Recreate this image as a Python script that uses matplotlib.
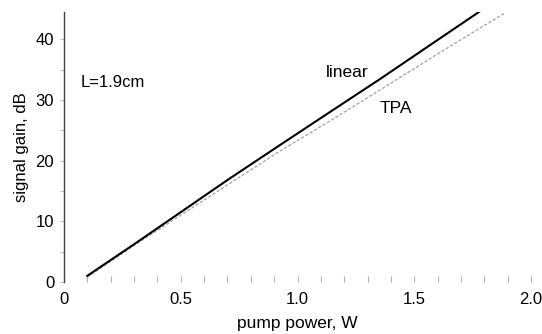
import matplotlib
matplotlib.use("Agg")
import matplotlib.pyplot as plt
from matplotlib.ticker import MultipleLocator, FixedLocator

plt.rcParams["font.family"] = ["Liberation Sans", "DejaVu Sans"]

# pump power (W) vs signal gain (dB)
linear_power = [0.10, 0.30, 0.50, 0.70, 0.93, 1.15, 1.355, 1.55, 1.78]
linear_gain = [1.0, 6.2, 11.5, 16.8, 22.7, 28.3, 33.5, 38.6, 44.6]
tpa_power = [0.10, 0.30, 0.50, 0.70, 0.93, 1.15, 1.355, 1.60, 1.89]
tpa_gain = [0.8, 6.0, 11.0, 16.0, 21.7, 26.8, 31.7, 37.6, 44.4]

x_ticks = [0, 0.5, 1.0, 1.5, 2.0]
x_tick_labels = ["0", "0.5", "1.0", "1.5", "2.0"]
y_ticks = [0, 10, 20, 30, 40]

fig = plt.figure(figsize=(5.42, 3.34), dpi=100)
ax = fig.add_axes([0.118, 0.156, 0.862, 0.808])

ax.plot(tpa_power, tpa_gain, color="#a0a0a0", lw=0.9, ls=(0, (2.5, 1.5)))
ax.plot(linear_power, linear_gain, color="black", lw=1.5)

ax.set_xlim(0, 2.0)
ax.set_ylim(0, 44.5)

ax.xaxis.set_major_locator(FixedLocator(x_ticks))
ax.set_xticklabels(x_tick_labels)
ax.xaxis.set_minor_locator(MultipleLocator(0.1))
ax.yaxis.set_major_locator(FixedLocator(y_ticks))
ax.yaxis.set_minor_locator(MultipleLocator(5))

ax.tick_params(axis="x", which="both", direction="in", length=4, width=0.8,
               color="#b0b0b0", labelsize=12, pad=7)
ax.tick_params(axis="y", which="both", direction="out", length=3, width=0.8,
               color="#c0c0c0", labelsize=12, pad=4)

for side in ["top", "right", "bottom"]:
    ax.spines[side].set_visible(False)
ax.spines["left"].set_color("#444444")
ax.spines["left"].set_linewidth(1.0)

ax.set_xlabel("pump power, W", fontsize=12.5, labelpad=7)
ax.set_ylabel("signal gain, dB", fontsize=12, labelpad=5)

ax.text(0.07, 32.9, "L=1.9cm", fontsize=12, va="center")
ax.text(1.12, 34.5, "linear", fontsize=12.5, va="center")
ax.text(1.42, 28.6, "TPA", fontsize=12.5, va="center", ha="center")

fig.savefig("out.png", dpi=100)
